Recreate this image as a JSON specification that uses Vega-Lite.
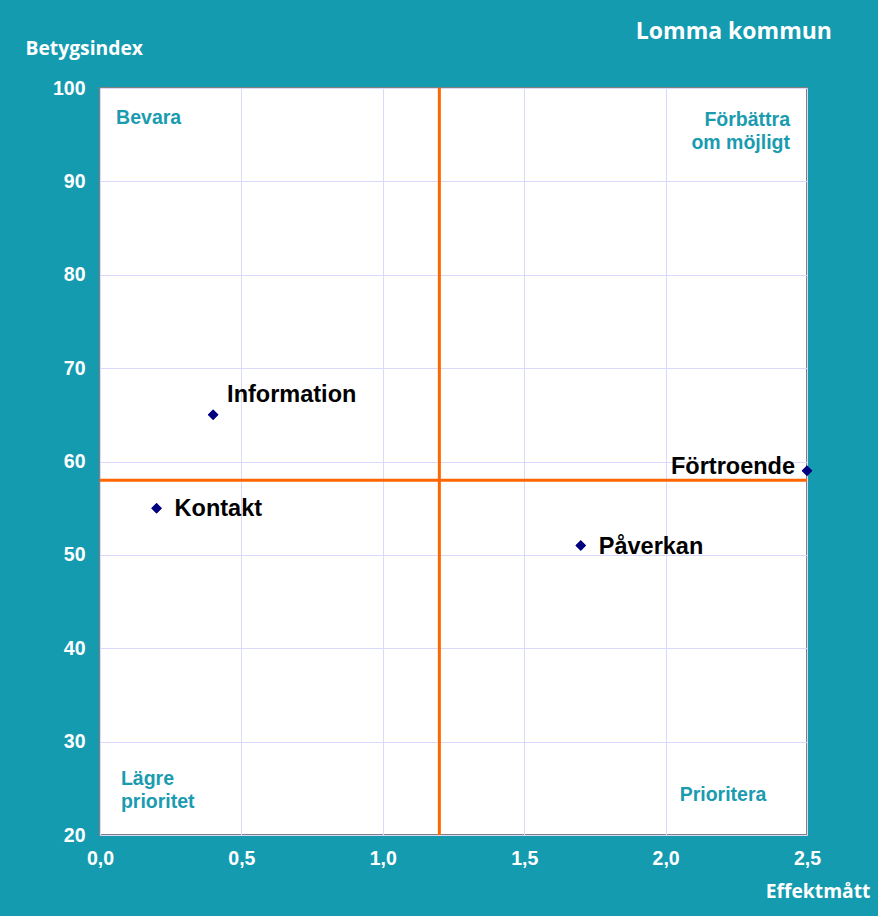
{
  "$schema": "https://vega.github.io/schema/vega-lite/v6.json",
  "width": 707,
  "height": 747,
  "autosize": {"type": "none"},
  "padding": {"left": 100, "top": 88, "right": 71, "bottom": 81},
  "background": "#149bb0",
  "config": {
    "view": {"fill": "white", "stroke": "#808080", "strokeWidth": 2},
    "axis": {
      "labelFont": "Liberation Sans",
      "labelFontWeight": "bold",
      "labelFontSize": 19.5,
      "labelColor": "white",
      "labelFlush": false,
      "gridColor": "#d9d9fb",
      "gridWidth": 1,
      "domain": false,
      "ticks": false,
      "titleFont": "Open Sans",
      "titleFontWeight": "bold",
      "titleFontSize": 19.3,
      "titleColor": "white",
      "titleAngle": 0
    }
  },
  "title": {
    "text": "Lomma kommun",
    "anchor": "end",
    "frame": "group",
    "font": "Open Sans",
    "fontWeight": "bold",
    "fontSize": 23,
    "color": "white",
    "offset": 0,
    "dx": 25,
    "dy": 5
  },
  "datasets": {
    "points": [
      {"namn": "Information", "effekt": 0.4, "betyg": 65},
      {"namn": "Kontakt", "effekt": 0.2, "betyg": 55},
      {"namn": "Påverkan", "effekt": 1.7, "betyg": 51},
      {"namn": "Förtroende", "effekt": 2.5, "betyg": 59}
    ],
    "quadrants": [
      {"etikett": ["Bevara"], "effekt": 0.057, "betyg": 96.8, "just": "left"},
      {"etikett": ["Förbättra", "om möjligt"], "effekt": 2.44, "betyg": 96.6, "just": "right"},
      {"etikett": ["Lägre", "prioritet"], "effekt": 0.074, "betyg": 26.0, "just": "left"},
      {"etikett": ["Prioritera"], "effekt": 2.203, "betyg": 24.3, "just": "center"}
    ],
    "lines": [{"effekt": 1.2, "betyg": 58}]
  },
  "layer": [
    {
      "data": {"name": "points"},
      "mark": {"type": "point", "shape": "diamond", "filled": true, "color": "#000080", "size": 110, "opacity": 1, "clip": false},
      "encoding": {
        "x": {
          "field": "effekt", "type": "quantitative",
          "scale": {"domain": [0, 2.5], "nice": false, "zero": true},
          "axis": {"values": [0, 0.5, 1, 1.5, 2, 2.5], "labelExpr": "replace(format(datum.value, '.1f'), '.', ',')", "labelPadding": 14, "title": "Effektmått", "titleAlign": "right", "titleX": 770, "titleY": 47, "titleBaseline": "top"}
        },
        "y": {
          "field": "betyg", "type": "quantitative",
          "scale": {"domain": [20, 100], "nice": false, "zero": false},
          "axis": {"values": [20, 30, 40, 50, 60, 70, 80, 90, 100], "labelPadding": 15, "title": "Betygsindex", "titleAlign": "left", "titleX": -75, "titleY": -40, "titleBaseline": "middle"}
        }
      }
    },
    {
      "data": {"name": "points"},
      "transform": [{"filter": "datum.namn === 'Information'"}],
      "mark": {"type": "text", "font": "Liberation Sans", "fontWeight": "bold", "fontSize": 23.5, "color": "black", "align": "left", "baseline": "middle", "dx": 14, "dy": -20},
      "encoding": {
        "x": {"field": "effekt", "type": "quantitative"},
        "y": {"field": "betyg", "type": "quantitative"},
        "text": {"field": "namn"}
      }
    },
    {
      "data": {"name": "points"},
      "transform": [{"filter": "datum.namn === 'Kontakt' || datum.namn === 'Påverkan'"}],
      "mark": {"type": "text", "font": "Liberation Sans", "fontWeight": "bold", "fontSize": 23.5, "color": "black", "align": "left", "baseline": "middle", "dx": 18, "dy": 1},
      "encoding": {
        "x": {"field": "effekt", "type": "quantitative"},
        "y": {"field": "betyg", "type": "quantitative"},
        "text": {"field": "namn"}
      }
    },
    {
      "data": {"name": "points"},
      "transform": [{"filter": "datum.namn === 'Förtroende'"}],
      "mark": {"type": "text", "font": "Liberation Sans", "fontWeight": "bold", "fontSize": 23.5, "color": "black", "align": "right", "baseline": "middle", "dx": -12, "dy": -4},
      "encoding": {
        "x": {"field": "effekt", "type": "quantitative"},
        "y": {"field": "betyg", "type": "quantitative"},
        "text": {"field": "namn"}
      }
    },
    {
      "data": {"name": "lines"},
      "mark": {"type": "rule", "color": "#ff6600", "strokeWidth": 3},
      "encoding": {"x": {"field": "effekt", "type": "quantitative"}}
    },
    {
      "data": {"name": "lines"},
      "mark": {"type": "rule", "color": "#ff6600", "strokeWidth": 3},
      "encoding": {"y": {"field": "betyg", "type": "quantitative"}}
    },
    {
      "data": {"name": "points"},
      "mark": {"type": "point", "shape": "diamond", "filled": true, "color": "#000080", "size": 110, "opacity": 1, "clip": false},
      "encoding": {
        "x": {"field": "effekt", "type": "quantitative"},
        "y": {"field": "betyg", "type": "quantitative"}
      }
    },
    {
      "data": {"name": "quadrants"},
      "transform": [{"filter": "datum.just === 'left'"}],
      "mark": {"type": "text", "font": "Liberation Sans", "fontWeight": "bold", "fontSize": 19.5, "color": "#1a9bb0", "align": "left", "baseline": "middle", "lineHeight": 23},
      "encoding": {
        "x": {"field": "effekt", "type": "quantitative"},
        "y": {"field": "betyg", "type": "quantitative"},
        "text": {"field": "etikett"}
      }
    },
    {
      "data": {"name": "quadrants"},
      "transform": [{"filter": "datum.just === 'right'"}],
      "mark": {"type": "text", "font": "Liberation Sans", "fontWeight": "bold", "fontSize": 19.5, "color": "#1a9bb0", "align": "right", "baseline": "middle", "lineHeight": 23},
      "encoding": {
        "x": {"field": "effekt", "type": "quantitative"},
        "y": {"field": "betyg", "type": "quantitative"},
        "text": {"field": "etikett"}
      }
    },
    {
      "data": {"name": "quadrants"},
      "transform": [{"filter": "datum.just === 'center'"}],
      "mark": {"type": "text", "font": "Liberation Sans", "fontWeight": "bold", "fontSize": 19.5, "color": "#1a9bb0", "align": "center", "baseline": "middle", "lineHeight": 23},
      "encoding": {
        "x": {"field": "effekt", "type": "quantitative"},
        "y": {"field": "betyg", "type": "quantitative"},
        "text": {"field": "etikett"}
      }
    }
  ]
}
